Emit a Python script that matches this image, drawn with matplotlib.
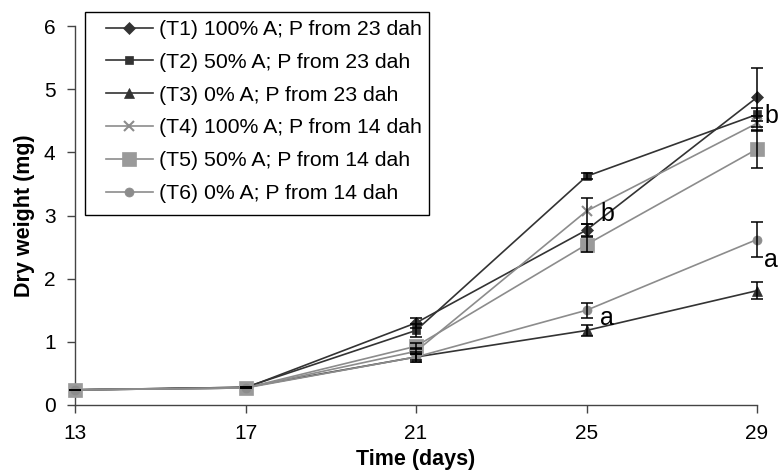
import numpy as np
import matplotlib
matplotlib.use("Agg")
import matplotlib.pyplot as plt
from matplotlib.patches import Rectangle

plt.rcParams['font.family'] = ['Liberation Sans', 'DejaVu Sans']

days = [13, 17, 21, 25, 29]

labels = ["(T1) 100% A; P from 23 dah",
          "(T2) 50% A; P from 23 dah",
          "(T3) 0% A; P from 23 dah",
          "(T4) 100% A; P from 14 dah",
          "(T5) 50% A; P from 14 dah",
          "(T6) 0% A; P from 14 dah"]

t1 = [0.24, 0.27, 1.30, 2.77, 4.87]
t2 = [0.24, 0.28, 1.18, 3.62, 4.60]
t3 = [0.24, 0.28, 0.76, 1.18, 1.81]
t4 = [0.24, 0.27, 0.85, 3.07, 4.46]
t5 = [0.24, 0.27, 0.93, 2.54, 4.05]
t6 = [0.24, 0.27, 0.76, 1.50, 2.62]

t1_err = [0.0, 0.0, 0.08, 0.10, 0.47]
t2_err = [0.0, 0.0, 0.10, 0.05, 0.10]
t3_err = [0.0, 0.0, 0.08, 0.08, 0.13]
t4_err = [0.0, 0.0, 0.05, 0.20, 0.12]
t5_err = [0.0, 0.0, 0.05, 0.12, 0.30]
t6_err = [0.0, 0.0, 0.05, 0.12, 0.27]

# significance letters
letter_x = [25.5, 25.47, 29.34, 29.33]
letter_y = [3.02, 1.38, 4.58, 2.30]
letter_txt = ["b", "a", "b", "a"]

dark = "#333333"
grey = "#8c8c8c"
series = [
    (t1, t1_err, dark, "D", 6.5, dark),
    (t2, t2_err, dark, "s", 6, dark),
    (t3, t3_err, dark, "^", 7.5, dark),
    (t4, t4_err, grey, "x", 7.5, grey),
    (t5, t5_err, grey, "s", 10.5, "#9a9a9a"),
    (t6, t6_err, grey, "o", 6.5, grey),
]

W, H = 779, 474
fig = plt.figure(figsize=(W / 100, H / 100), dpi=100)
ax = fig.add_axes([75 / W, 1 - 405 / H, 682 / W, 379 / H])

handles = []
for (vals, err, col, mk, ms, mcol), lab in zip(series, labels):
    h, = ax.plot(days, vals, color=col, lw=1.2, marker=mk, markersize=ms,
                 markerfacecolor=mcol, markeredgecolor=mcol,
                 markeredgewidth=1.5 if mk == "x" else 0.5,
                 label=lab, clip_on=False, zorder=3)
    handles.append(h)

for vals, err, col, mk, ms, mcol in series:
    ax.errorbar(days, vals, yerr=err, fmt="none", ecolor="black",
                elinewidth=1.1, capsize=4.5, capthick=1.1, zorder=4,
                clip_on=False)

for x, y, s in zip(letter_x, letter_y, letter_txt):
    ax.text(x, y, s, fontsize=18, ha="center", va="center", clip_on=False)

ax.set_xlim(13, 29)
ax.set_ylim(0, 6)
ax.set_xticks(days)
ax.set_yticks(range(0, 7))
ax.spines["top"].set_visible(False)
ax.spines["right"].set_visible(False)
for sp in ("left", "bottom"):
    ax.spines[sp].set_color("#444444")
    ax.spines[sp].set_linewidth(1.0)
ax.tick_params(direction="out", length=6, width=1.0, color="#444444",
               labelsize=15, pad=8)
ax.set_xlabel("Time (days)", fontsize=15.5, fontweight="bold", labelpad=4)
ax.set_ylabel("Dry weight (mg)", fontsize=15.5, fontweight="bold", labelpad=6)

# legend box drawn separately, entries placed inside it
fig.patches.append(Rectangle((85 / W, 1 - 215 / H), 344 / W, 203 / H,
                             transform=fig.transFigure, fill=False,
                             edgecolor="black", linewidth=1.0, zorder=5))
leg = fig.legend(handles=handles, loc="upper left",
                 bbox_to_anchor=(106 / W, 1 - 20 / H), fontsize=15.3,
                 frameon=False, handlelength=2.2,
                 handletextpad=0.3, borderpad=0.0, labelspacing=0.65,
                 borderaxespad=0)

fig.savefig("out.png", dpi=100)
